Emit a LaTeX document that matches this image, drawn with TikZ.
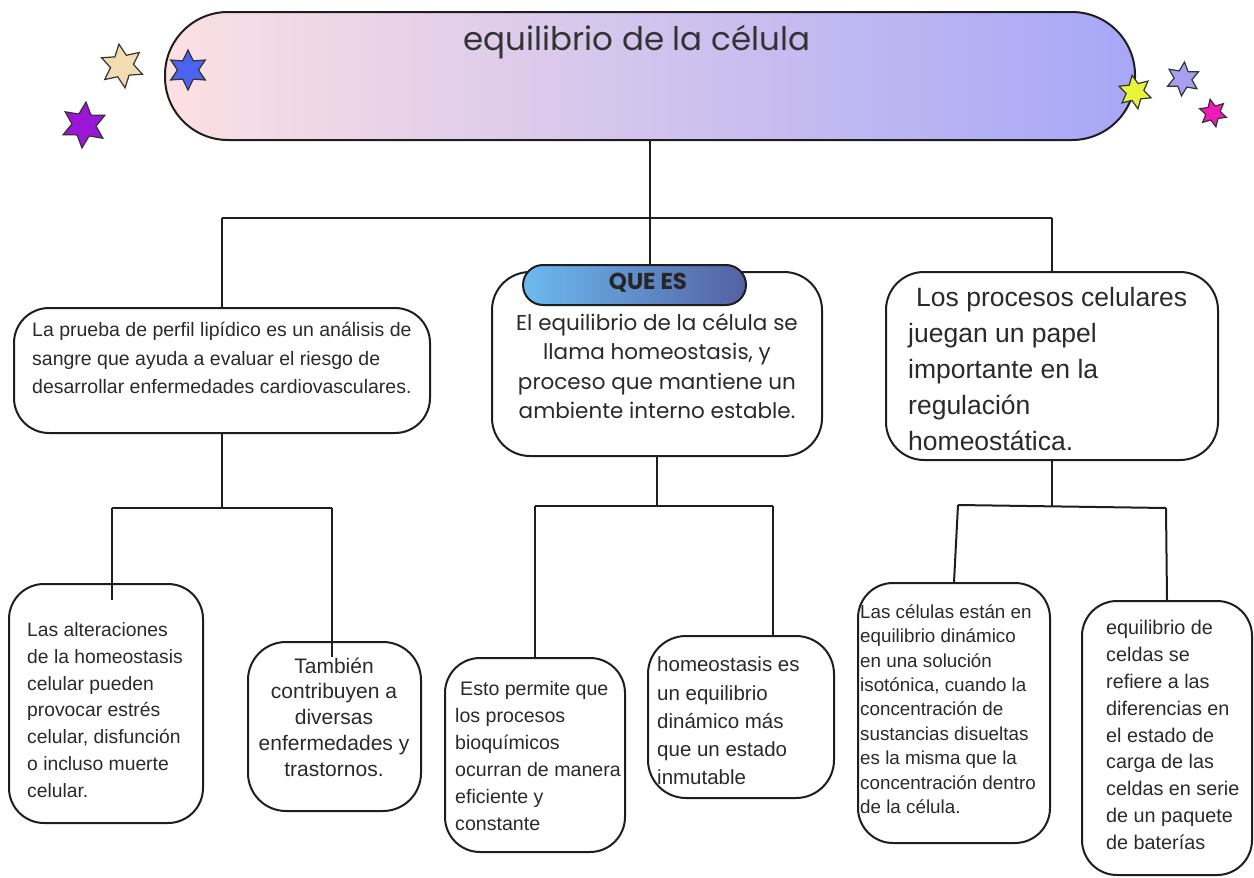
\documentclass[tikz,border=0pt]{standalone}
\usepackage{fontspec}
\setmainfont{Liberation Sans}
\newfontfamily\pop{Poppins}
\usetikzlibrary{shapes.geometric}
\definecolor{linec}{HTML}{1E1E1E}
\definecolor{txt}{HTML}{2A2A2A}
\definecolor{tleft}{HTML}{FCE0E3}
\definecolor{tright}{HTML}{A7A7F7}
\definecolor{qleft}{HTML}{6CBAF0}
\definecolor{qright}{HTML}{5461A3}
\definecolor{sbeige}{HTML}{F3DDB0}
\definecolor{spurple}{HTML}{9C16D8}
\definecolor{sblue}{HTML}{4B63EE}
\definecolor{syellow}{HTML}{E6F53A}
\definecolor{slav}{HTML}{A99FF0}
\definecolor{smag}{HTML}{F01AB8}
\begin{document}
\begin{tikzpicture}[x=1pt,y=-1pt,
  box/.style={draw=linec, line width=2pt, fill=white, inner sep=0pt},
  conn/.style={draw=linec, line width=2pt},
  txtl/.style={anchor=west, align=left, inner sep=0pt, text=txt},
  txtc/.style={anchor=center, align=center, inner sep=0pt, text=txt},
  starn/.style={star, star points=6, star point ratio=1.9, draw=black!80, line width=1.2pt, inner sep=0pt}]
\useasboundingbox[fill=white] (0,0) rectangle (1254,878);

% title
\node[draw=linec, line width=2pt, left color=tleft, right color=tright, rounded corners=63pt,
  minimum width=970, minimum height=128, inner sep=0pt] (title) at (650,76) {};
\node[txtc, text=black!80, font=\pop\fontsize{32.5}{34}\selectfont] (titlet) at (637,42) {equilibrio de la célula};

% stars
\node[starn, fill=sbeige, minimum size=44, rotate=8] (s1) at (122,66) {};
\node[starn, fill=spurple, minimum size=46, rotate=-5] (s2) at (84,125) {};
\node[starn, fill=sblue, minimum size=40, rotate=0] (s3) at (188,70) {};
\node[starn, fill=syellow, minimum size=34, rotate=10] (s4) at (1135,92) {};
\node[starn, fill=slav, minimum size=34, rotate=-5] (s5) at (1183,79) {};
\node[starn, fill=smag, minimum size=28, rotate=12] (s6) at (1213,113) {};

% level 1 boxes
\node[box, rounded corners=35pt, minimum width=416, minimum height=125] (LB) at (222,370.5) {};
\node[box, rounded corners=38pt, minimum width=330, minimum height=184] (MB) at (657,364) {};
\node[box, rounded corners=38pt, minimum width=332, minimum height=188] (RB) at (1052,366) {};
\node[draw=linec, line width=2pt, left color=qleft, right color=qright, rounded corners=20pt,
  minimum width=223, minimum height=40, inner sep=0pt] (que) at (634.5,285) {};
\node[txtc, text=black!85, font=\pop\bfseries\fontsize{23}{24}\selectfont] (quet) at (648,283) {QUE ES};

% level 2 boxes
\node[box, rounded corners=35pt, minimum width=194, minimum height=239] (LL1) at (106,703.5) {};
\node[box, rounded corners=38pt, minimum width=173, minimum height=169] (LL2) at (334.5,726.5) {};
\node[box, rounded corners=35pt, minimum width=180, minimum height=194] (M1) at (535,755) {};
\node[box, rounded corners=38pt, minimum width=186, minimum height=162] (M2) at (741,717) {};
\node[box, rounded corners=35pt, minimum width=192, minimum height=260] (R1) at (954,713) {};
\node[box, rounded corners=35pt, minimum width=170, minimum height=274] (R2) at (1167,738) {};

% connectors
\coordinate (hL) at (222,218);
\coordinate (hR) at (1052,218);
\draw[conn] (title.south) -- (title.south |- que.north);
\draw[conn] (hL) -- (hR);
\draw[conn] (hL) -- (LB.north);
\draw[conn] (hR) -- (RB.north);

\coordinate (jL) at (222,508);
\coordinate (aL1) at (112,508);
\coordinate (aL2) at (332,508);
\coordinate (eL1) at (112,600);
\coordinate (eL2) at (332,657);
\draw[conn] (LB.south) -- (jL);
\draw[conn] (aL1) -- (aL2);
\draw[conn] (aL1) -- (eL1);
\draw[conn] (aL2) -- (eL2);

\coordinate (jM) at (657,506);
\coordinate (aM1) at (535,506);
\coordinate (aM2) at (773,506);
\coordinate (eM2) at (773,636);
\draw[conn] (MB.south) -- (jM);
\draw[conn] (aM1) -- (aM2);
\draw[conn] (aM1) -- (M1.north);
\draw[conn] (aM2) -- (eM2);

\coordinate (jR) at (1052,506);
\coordinate (aR1) at (958,505);
\coordinate (aR2) at (1166,508);
\draw[conn] (RB.south) -- (jR);
\draw[conn] (aR1) -- (aR2);
\draw[conn] (aR1) -- (R1.north);
\draw[conn] (aR2) -- (R2.north);

% texts
\node[txtl, font=\fontsize{19.5}{28.5}\selectfont] (LBt) at (32,358) {La prueba de perfil lipídico es un análisis de\\sangre que ayuda a evaluar el riesgo de\\desarrollar enfermedades cardiovasculares.};
\node[txtc, font=\pop\fontsize{21.5}{29.5}\selectfont] (MBt) at (657,366) {El equilibrio de la célula se\\llama homeostasis, y\\proceso que mantiene un\\ambiente interno estable.};
\node[txtl, font=\fontsize{26.5}{36}\selectfont] (RBt) at (908,369) {\hspace{8pt}Los procesos celulares\\juegan un papel\\importante en la\\regulación\\homeostática.};
\node[txtl, font=\fontsize{19.3}{26.7}\selectfont] (LL1t) at (27,710) {Las alteraciones\\de la homeostasis\\celular pueden\\provocar estrés\\celular, disfunción\\o incluso muerte\\celular.};
\node[txtc, font=\fontsize{21}{25.8}\selectfont] (LL2t) at (334,717) {También\\contribuyen a\\diversas\\enfermedades y\\trastornos.};
\node[txtl, font=\fontsize{19.6}{27}\selectfont] (M1t) at (455,756) {\hspace{5pt}Esto permite que\\los procesos\\bioquímicos\\ocurran de manera\\eficiente y\\constante};
\node[txtl, font=\fontsize{20.5}{28.2}\selectfont] (M2t) at (657,721) {homeostasis es\\un equilibrio\\dinámico más\\que un estado\\inmutable};
\node[txtl, font=\fontsize{18.8}{24.4}\selectfont] (R1t) at (860,709) {Las células están en\\equilibrio dinámico\\en una solución\\isotónica, cuando la\\concentración de\\sustancias disueltas\\es la misma que la\\concentración dentro\\de la célula.};
\node[txtl, font=\fontsize{19.8}{26.8}\selectfont] (R2t) at (1106,735) {equilibrio de\\celdas se\\refiere a las\\diferencias en\\el estado de\\carga de las\\celdas en serie\\de un paquete\\de baterías};
\end{tikzpicture}
\end{document}
